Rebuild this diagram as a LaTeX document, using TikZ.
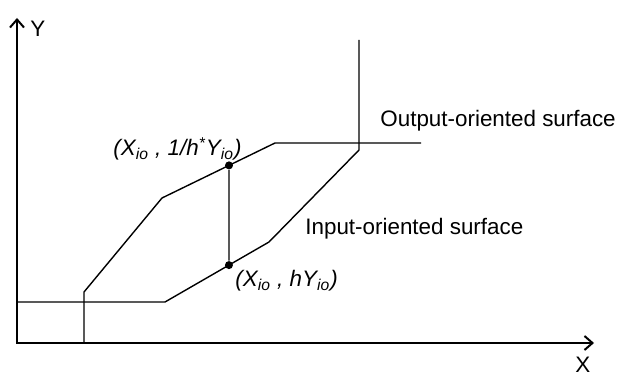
\documentclass[tikz,border=0pt]{standalone}
\usepackage{fontspec}
\setmainfont{Liberation Sans}
\usetikzlibrary{arrows.meta,positioning,calc}

\begin{document}
\begin{tikzpicture}[x=0.5pt, y=0.5pt,
    axis/.style={line width=1pt, {Straight Barb[length=4pt,width=7pt]}-{Straight Barb[length=4pt,width=7pt]}},
    surf/.style={line width=0.7pt},
    lbl/.style={inner sep=0pt, font=\fontsize{11.2}{13}\selectfont},
    pt/.style={circle, fill, inner sep=0pt, minimum size=4pt}
]
\useasboundingbox (0,0) rectangle (619,374);

% Axes
\coordinate (O) at (17,31);
\coordinate (ytip) at (17,356);
\coordinate (xtip) at (594,31);
\draw[axis] (ytip) -- (O) -- (xtip);
\node[lbl, anchor=base west] (ylab) at (30,337) {Y};
\node[lbl, anchor=base west] (xlab) at (575,2) {X};

% Output-oriented surface
\coordinate (o1) at (84,31);
\coordinate (o2) at (84,82);
\coordinate (o3) at (162,176);
\coordinate (o4) at (275,231);
\coordinate (o5) at (421,231);
\draw[surf] (o1) -- (o2) -- (o3) -- (o4) -- (o5);

% Input-oriented surface
\coordinate (i1) at (16,72);
\coordinate (i2) at (165,72);
\coordinate (i3) at (269,132);
\coordinate (i4) at (359,224);
\coordinate (i5) at (359,334);
\draw[surf] (i1) -- (i2) -- (i3) -- (i4) -- (i5);

% Projections
\node[pt] (top) at ($(o3)!0.593!(o4)$) {};
\node[pt] (bot) at ($(i2)!0.615!(i3)$) {};
\draw[surf] (top) -- (bot);

% Labels
\node[lbl, anchor=base west] (toplab) at (113,218)
    {\itshape (X\textsubscript{io} , 1/h\textsuperscript{*}Y\textsubscript{io})};
\node[lbl, anchor=base west] (botlab) at (235,87)
    {\itshape (X\textsubscript{io} , hY\textsubscript{io})};
\node[lbl, anchor=base west] (outlab) at (380,247) {Output-oriented surface};
\node[lbl, anchor=base west] (inlab) at (305,139) {Input-oriented surface};

\end{tikzpicture}
\end{document}
